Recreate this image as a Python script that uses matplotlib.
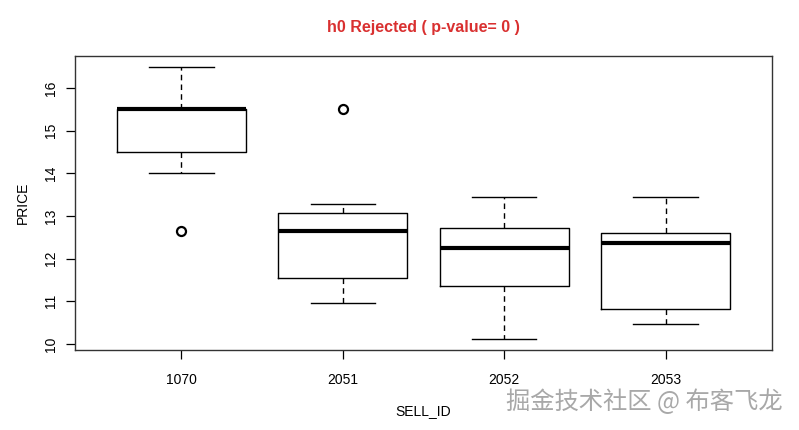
import matplotlib
matplotlib.use("Agg")
import matplotlib.pyplot as plt

plt.rcParams['font.family'] = ['Liberation Sans', 'DejaVu Sans']

categories = ["1070", "2051", "2052", "2053"]
whisker_low = [14.0, 10.97, 10.12, 10.47]
q1 = [14.5, 11.55, 11.37, 10.82]
median = [15.5, 12.65, 12.26, 12.37]
q3 = [15.5, 13.08, 12.72, 12.60]
whisker_high = [16.5, 13.28, 13.44, 13.44]
outliers = [[12.65], [15.5], [], []]
y_ticks = [10, 11, 12, 13, 14, 15, 16]

stats = []
for i, c in enumerate(categories):
    stats.append(dict(label=c, whislo=whisker_low[i], q1=q1[i], med=median[i],
                      q3=q3[i], whishi=whisker_high[i], fliers=outliers[i]))

fig = plt.figure(figsize=(7.99, 4.30), dpi=100)
ax = fig.add_axes([75/799, 1-350/430, (772-75)/799, (350-56)/430])

positions = list(range(1, len(categories) + 1))
ax.bxp(stats, positions=positions, widths=0.8, showfliers=True,
       boxprops=dict(color='black', linewidth=1.0),
       medianprops=dict(color='black', linewidth=3.0, solid_capstyle='butt'),
       whiskerprops=dict(color='black', linewidth=1.0, linestyle=(0, (4, 3))),
       capprops=dict(color='black', linewidth=1.0),
       flierprops=dict(marker='o', markersize=6.5, markerfacecolor='none',
                       markeredgecolor='black', markeredgewidth=1.6),
       capwidths=0.4)

ax.set_xlim(0.34, 4.66)
ax.set_ylim(9.86, 16.75)
ax.set_yticks(y_ticks)
ax.set_yticklabels([str(t) for t in y_ticks], rotation=90, va='center', fontsize=10)
ax.set_xticks(positions)
ax.set_xticklabels(categories, fontsize=10)
ax.tick_params(axis='both', direction='out', length=6.5, width=0.9, color='black')
ax.tick_params(axis='y', pad=6)
ax.tick_params(axis='x', pad=10)
for s in ax.spines.values():
    s.set_linewidth(1.0)
    s.set_color('#333333')

ax.set_xlabel("SELL_ID", fontsize=10, labelpad=12)
ax.set_ylabel("PRICE", fontsize=10, labelpad=10)
ax.set_title("h0 Rejected ( p-value= 0 )", color='#d93030', fontweight='bold',
             fontsize=11.5, pad=17)

fig.text(783/799, 1-402/430, "掘金技术社区 @ 布客飞龙", ha='right', va='center',
         fontsize=17.5, color='#a8a8a8', family=['Noto Sans CJK SC', 'DejaVu Sans'])

fig.savefig("out.png", dpi=100)
